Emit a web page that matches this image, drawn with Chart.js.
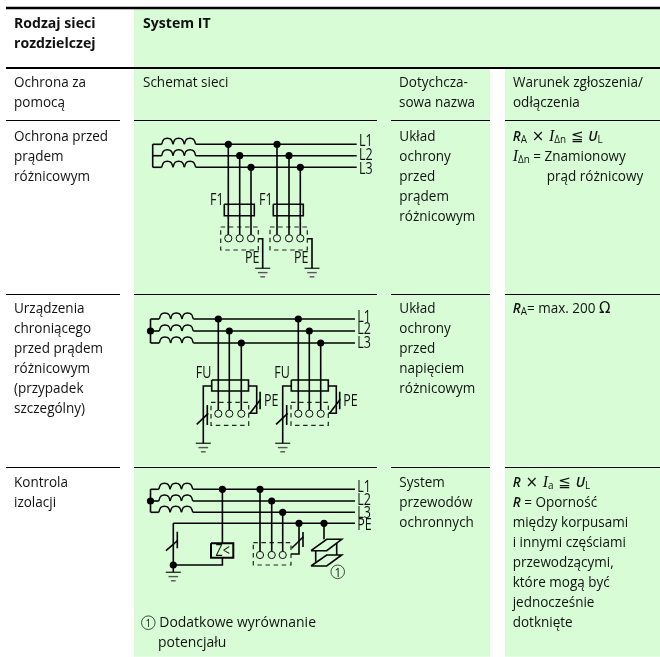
<!DOCTYPE html>
<html>
<head>
<meta charset="utf-8">
<style>
  html, body { margin: 0; padding: 0; background: #fff; }
  #wrap { width: 660px; height: 657px; }
  canvas { display: block; }
</style>
<script src="https://cdn.jsdelivr.net/npm/chart.js@4/dist/chart.umd.min.js"></script>
</head>
<body>
<div id="wrap"><canvas id="myChart" width="660" height="657"></canvas></div>
<script>
// table text
const headerLeft = ['Rodzaj sieci', 'rozdzielczej'];
const headerRight = ['System IT'];
const columnHeads = [['Ochrona za', 'pomocą'], ['Schemat sieci'], ['Dotychcza-', 'sowa nazwa'], ['Warunek zgłoszenia/', 'odłączenia']];
const rowTitles = [
    ['Ochrona przed', 'prądem', 'różnicowym'],
    ['Urządzenia', 'chroniącego', 'przed prądem', 'różnicowym', '(przypadek', 'szczególny)'],
    ['Kontrola', 'izolacji']
];
const rowNames = [
    ['Układ', 'ochrony', 'przed', 'prądem', 'różnicowym'],
    ['Układ', 'ochrony', 'przed', 'napięciem', 'różnicowym'],
    ['System', 'przewodów', 'ochronnych']
];
const footnote = ['Dodatkowe wyrównanie', 'potencjału'];

// rich lines: [text, style]
const conditionA = [
    [['R', 'it'], ['A', 'sub'], [' × ', 'sym'], ['I', 'serif'], ['Δn', 'sub'], [' ≦ ', 'sym'], ['U', 'it'], ['L', 'sub']],
    [['I', 'serif'], ['Δn', 'sub'], [' = Znamionowy', 'txt']]
];
const conditionA2 = 'prąd różnicowy';
const conditionB = [[['R', 'it'], ['A', 'sub'], ['= max. 200 ', 'txt'], ['Ω', 'sym']]];
const conditionC = [
    [['R', 'it'], [' × ', 'sym'], ['I', 'serif'], ['a', 'sub'], [' ≦ ', 'sym'], ['U', 'it'], ['L', 'sub']],
    [['R', 'it'], [' = Oporność', 'txt']],
    [['między korpusami', 'txt']],
    [['i innymi częściami', 'txt']],
    [['przewodzącymi,', 'txt']],
    [['które mogą być', 'txt']],
    [['jednocześnie', 'txt']],
    [['dotknięte', 'txt']]
];

// schematic 1
const net1Rows = [144.3, 155.7, 167.3];
const net1Taps = [228.3, 239.7, 251, 277, 289, 300.3];
const net1Fuses = [[224.3, 254.3], [273.3, 303.3]];
const net1Boxes = [[220.7, 258.3], [270, 307.3]];
const net1PeX = [262.7, 312];

// schematic 2
const net2Rows = [319, 331, 343];
const net2Taps = [218.3, 229.3, 241.3, 298.3, 309.3, 320.7];
const net2Fuses = [[211.7, 248.5], [291.3, 328.3]];
const net2Boxes = [[211, 248.7], [291, 328.3]];
const net2LeftX = [203.3, 282.7];
const net2RightX = [256.7, 336.3];

// schematic 3
const net3Rows = [489.3, 501, 512.3, 523.3];
const net3Taps = [260, 271.7, 282.7];

const coilHump = [[0, 0], [1.4, -4], [3.4, -5.6], [5.67, -6], [7.9, -5.6], [9.9, -4], [11.33, 0]];

const INK = '#000';
const GREEN = '#d8fdd6';
const datasets = [];
const dots = [];
const terminals = [];
const rings = [];

function wire(points, width, color) {
    datasets.push({
        data: points.map(p => ({ x: p[0], y: p[1] })),
        showLine: true, pointRadius: 0, borderColor: color || INK,
        borderWidth: width || 1.6, tension: 0, order: 2, clip: false
    });
}

function dashedBox(x0, x1, y0, y1) {
    datasets.push({
        data: [[x0, y0], [x1, y0], [x1, y1], [x0, y1], [x0, y0]].map(p => ({ x: p[0], y: p[1] })),
        showLine: true, pointRadius: 0, borderColor: '#222', borderWidth: 1.2,
        borderDash: [4.5, 3.6], order: 2, clip: false
    });
}

function box(x0, x1, y0, y1, width) {
    wire([[x0, y0], [x1, y0], [x1, y1], [x0, y1], [x0, y0]], width);
}

function ground(x, y) {
    wire([[x - 7.5, y], [x + 7.5, y]], 1.4, '#333');
    wire([[x - 4.8, y + 4.3], [x + 4.8, y + 4.3]], 1.4, '#555');
    wire([[x - 2.4, y + 8.5], [x + 2.4, y + 8.5]], 1.4, '#555');
}

function feeder(rows, busX, coilX, endX) {
    wire([[busX, rows[0]], [busX, rows[2]]]);
    rows.slice(0, 3).forEach(y => {
        wire([[busX, y], [coilX, y]]);
        for (let h = 0; h < 3; h++) {
            datasets.push({
                data: coilHump.map(p => ({ x: coilX + h * 11.33 + p[0], y: y + p[1] })),
                showLine: true, pointRadius: 0, borderColor: INK, borderWidth: 1.4,
                tension: 0.3, order: 2, clip: false
            });
        }
        wire([[coilX + 34, y], [endX, y]]);
    });
}

function taps(xs, rows, termY) {
    xs.forEach((x, i) => {
        const y = rows[i % 3];
        wire([[x, y], [x, termY]]);
        dots.push({ x: x, y: y });
        terminals.push({ x: x, y: termY });
    });
}

// schematic 1
feeder(net1Rows, 152.7, 161.7, 356.7);
taps(net1Taps, net1Rows, 238.3);
net1Fuses.forEach(f => box(f[0], f[1], 204.3, 215.7));
net1Boxes.forEach(b => dashedBox(b[0], b[1], 227, 250));
net1PeX.forEach((x, i) => {
    wire([[net1Boxes[i][1], 238.7], [x, 238.7], [x, 268.3]]);
    ground(x, 268.3);
});

// schematic 2
feeder(net2Rows, 150.5, 159.3, 355);
dots.push({ x: 150.5, y: net2Rows[1] });
taps(net2Taps, net2Rows, 413.7);
net2Fuses.forEach(f => box(f[0], f[1], 380, 391));
net2Boxes.forEach(b => dashedBox(b[0], b[1], 402.3, 425.3));
net2LeftX.forEach((x, i) => {
    wire([[net2Fuses[i][0], 386], [x, 386], [x, 443.3]]);
    wire([[x + 4, 405], [x + 4, 425]]);
    wire([[x - 6.6, 424.3], [x + 5, 413.3]]);
    ground(x, 443.3);
});
net2RightX.forEach((x, i) => {
    wire([[net2Fuses[i][1], 386], [x, 386], [x, 413.3], [net2Boxes[i][1], 413.3]]);
    wire([[x + 3.4, 391.7], [x + 3.4, 409.3]]);
    wire([[x - 6.7, 413.3], [x + 4, 399.3]]);
});

// schematic 3
feeder(net3Rows, 150.5, 158.8, 355);
dots.push({ x: 150.5, y: net3Rows[1] });
wire([[173.3, net3Rows[3]], [355, net3Rows[3]]]);
wire([[173.3, net3Rows[3]], [173.3, 572]]);
wire([[177.3, 531.7], [177.3, 548.3]]);
wire([[166, 550.7], [177.5, 540.7]]);
dots.push({ x: 173.3, y: 565 });
ground(173.3, 572.3);
wire([[222.4, net3Rows[0]], [222.4, 543.3]]);
wire([[222.4, 558], [222.4, 565], [173.3, 565]]);
dots.push({ x: 222.4, y: net3Rows[0] });
box(211, 233.3, 543.3, 557.8, 2);
taps(net3Taps, net3Rows, 555);
dashedBox(253.3, 291, 542.7, 565);
wire([[299, net3Rows[3]], [299, 554], [291, 554]]);
wire([[303, 532], [303, 547]]);
wire([[291.7, 548.3], [303.3, 536.7]]);
dots.push({ x: 299, y: net3Rows[3] }, { x: 324, y: net3Rows[3] });
wire([[324, net3Rows[3]], [324, 539.3]]);
wire([[315.7, 550.7], [315.7, 561.7]]);
wire([[336.7, 543], [336.7, 555]]);
wire([[311, 550.7], [326.7, 539.3], [341.7, 539.3], [326.7, 550.7], [311, 550.7]], 1.6);
wire([[311, 566], [326.7, 555], [341.7, 555], [326.7, 566], [311, 566]], 1.6);
rings.push({ x: 337.7, y: 571.8 }, { x: 148.3, y: 622.7 });

// table rules
wire([[6, 8], [660, 8]], 2.4);
wire([[6, 68], [660, 68]], 2);
[120.5, 294.5, 467.5].forEach(y => {
    [[6, 120], [134, 377], [391, 490], [505, 660]].forEach(s => wire([[s[0], y], [s[1], y]], 1.2));
});

datasets.push({ data: dots, pointRadius: 3.6, pointBackgroundColor: INK, pointBorderWidth: 0, order: 0, clip: false });
datasets.push({ data: terminals, pointRadius: 3.6, pointBackgroundColor: GREEN, pointBorderColor: '#111', pointBorderWidth: 1, order: 0, clip: false });
datasets.push({ data: rings, pointRadius: 6.8, pointBackgroundColor: GREEN, pointBorderColor: '#333', pointBorderWidth: 0.9, order: 0, clip: false });

const FACE = '"Open Sans"';
const SQUEEZE = 0.9;
const fonts = {
    txt: '15px ' + FACE,
    bold: 'bold 15px ' + FACE,
    it: 'italic 600 15px ' + FACE,
    serif: 'italic 16px "Liberation Serif"',
    sub: '11px ' + FACE,
    sym: '15px "DejaVu Sans"'
};

const tablePlugin = {
    id: 'tablePlugin',
    beforeDatasetsDraw(chart) {
        const c = chart.ctx, sx = chart.scales.x, sy = chart.scales.y;
        c.save();
        c.fillStyle = GREEN;
        [[134, 660, 9, 68], [134, 490, 68, 656.7], [505, 660, 68, 656.7]].forEach(p => {
            c.fillRect(sx.getPixelForValue(p[0]), sy.getPixelForValue(p[2]),
                sx.getPixelForValue(p[1]) - sx.getPixelForValue(p[0]), sy.getPixelForValue(p[3]) - sy.getPixelForValue(p[2]));
        });
        c.restore();
    },
    afterDatasetsDraw(chart) {
        const c = chart.ctx, sx = chart.scales.x, sy = chart.scales.y;

        function run(text, x, y, font, squeeze) {
            c.save();
            c.font = font;
            c.fillStyle = '#111';
            c.textBaseline = 'alphabetic';
            c.translate(x, y);
            c.scale(squeeze, 1);
            c.fillText(text, 0, 0);
            const w = c.measureText(text).width * squeeze;
            c.restore();
            return w;
        }
        function lines(list, x, y, font, squeeze) {
            list.forEach((t, i) => run(t, sx.getPixelForValue(x), sy.getPixelForValue(y + i * 20), font || fonts.txt, squeeze || SQUEEZE));
        }
        function rich(list, x, y) {
            list.forEach((line, i) => {
                let px = sx.getPixelForValue(x);
                const py = sy.getPixelForValue(y + i * 20);
                line.forEach(r => {
                    const off = r[1] === 'sub' ? 2 : 0;
                    px += run(r[0], px, py + off, fonts[r[1]], r[1] === 'sym' || r[1] === 'serif' ? 1 : SQUEEZE);
                });
            });
        }
        function tag(text, x, y) {
            run(text, sx.getPixelForValue(x), sy.getPixelForValue(y), '16px ' + FACE, 0.78);
        }

        lines(headerLeft, 14, 28, fonts.bold, 0.94);
        lines(headerRight, 143, 28, fonts.bold, 0.94);
        [14, 143, 399, 513].forEach((x, i) => lines(columnHeads[i], x, 87));
        [141, 313.3, 486.7].forEach((y, i) => {
            lines(rowTitles[i], 14, y);
            lines(rowNames[i], 399.3, y);
        });
        rich(conditionA, 512.7, 141);
        lines([conditionA2], 546.7, 181);
        rich(conditionB, 512.7, 313.3);
        rich(conditionC, 512.7, 486.7);
        lines([footnote[0]], 159.3, 627, fonts.txt, 0.93);
        lines([footnote[1]], 158, 647, fonts.txt, 0.93);

        [[146, 'L1'], [159.7, 'L2'], [173.7, 'L3']].forEach(l => tag(l[1], 359, l[0]));
        [[321.7, 'L1'], [334.3, 'L2'], [348, 'L3']].forEach(l => tag(l[1], 357.3, l[0]));
        [[491.5, 'L1'], [505, 'L2'], [518, 'L3'], [530, 'PE']].forEach(l => tag(l[1], 357.3, l[0]));
        tag('F1', 210, 205); tag('F1', 259, 205);
        tag('PE', 245, 263); tag('PE', 294, 263);
        tag('FU', 195.7, 378.3); tag('FU', 274.3, 378.3);
        tag('PE', 264, 405.7); tag('PE', 343.3, 405.7);
        tag('Z<', 215.5, 555.9);
        run('1', sx.getPixelForValue(334.5), sy.getPixelForValue(576.5), '13px ' + FACE, 0.9);
        run('1', sx.getPixelForValue(145.6), sy.getPixelForValue(627), '11px ' + FACE, 0.9);
    }
};

new Chart(document.getElementById('myChart').getContext('2d'), {
    type: 'scatter',
    data: { datasets: datasets },
    options: {
        responsive: false,
        animation: false,
        layout: { padding: 0, autoPadding: false },
        plugins: { legend: { display: false }, tooltip: { enabled: false } },
        scales: {
            x: { type: 'linear', min: 0, max: 660, display: false },
            y: { type: 'linear', min: 0, max: 657, reverse: true, display: false }
        }
    },
    plugins: [tablePlugin]
});
</script>
</body>
</html>
